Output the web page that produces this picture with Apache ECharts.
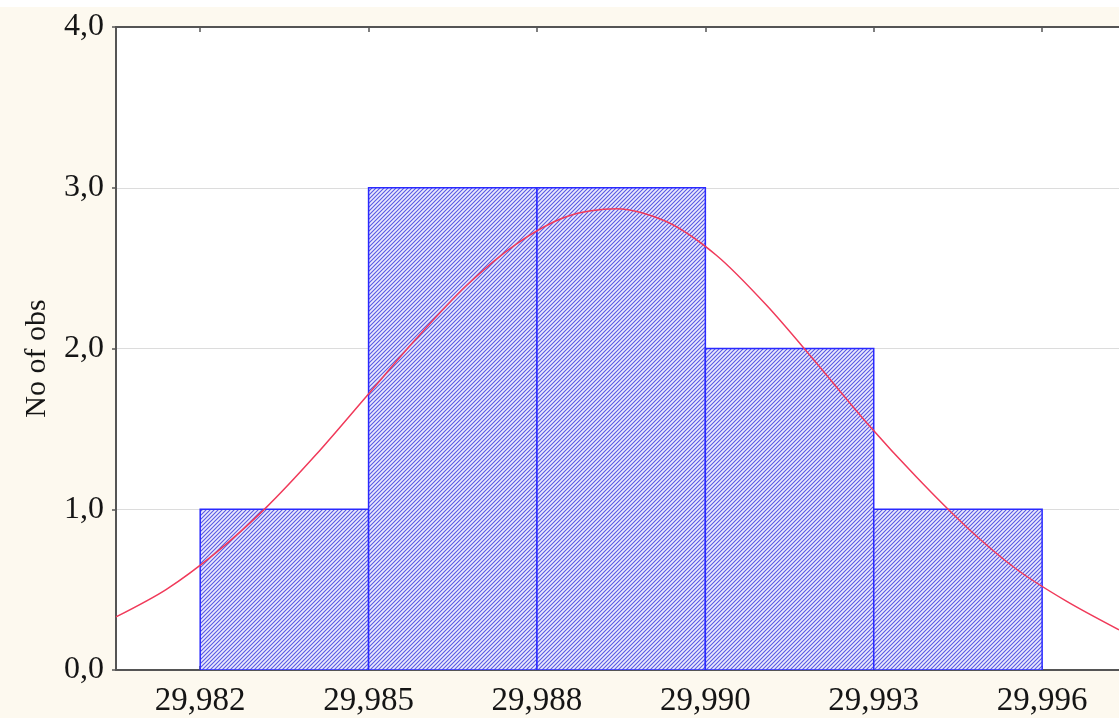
<!DOCTYPE html>
<html>
<head>
<meta charset="utf-8">
<script src="https://cdn.jsdelivr.net/npm/echarts@6/dist/echarts.min.js"></script>
<style>
html,body{margin:0;padding:0;background:#fdf9ef;}
#chart{width:1119px;height:718px;}
</style>
</head>
<body>
<div id="chart"></div>
<script>
// Histogram bins (edges) and observed counts
const binEdges = [29.98215, 29.98491, 29.98767, 29.99043, 29.99319, 29.99595];
const counts = [1, 3, 3, 2, 1];
const yTicks = [0, 1, 2, 3, 4];
const yAxisName = 'No of obs';
// Fitted normal curve
const curveX = [29.98077, 29.98159, 29.98241, 29.98323, 29.98405, 29.98487, 29.98569, 29.98651, 29.98733, 29.98815, 29.98897, 29.98979, 29.99061, 29.99143, 29.99225, 29.99307, 29.99389, 29.99471, 29.99552, 29.99634, 29.99721];
const curveY = [0.33, 0.50, 0.73, 1.01, 1.34, 1.70, 2.06, 2.39, 2.65, 2.82, 2.87, 2.79, 2.58, 2.27, 1.91, 1.54, 1.20, 0.89, 0.63, 0.43, 0.25];

const xMin = 29.98077, xMax = 29.99721;

// hatch pattern
const pc = document.createElement('canvas');
pc.width = 4; pc.height = 4;
const g = pc.getContext('2d');
g.fillStyle = '#eaeafd';
g.fillRect(0, 0, 4, 4);
g.strokeStyle = '#5858e4';
g.lineWidth = 1.1;
g.beginPath();
g.moveTo(-1, 5); g.lineTo(5, -1);
g.moveTo(-1, 1); g.lineTo(1, -1);
g.moveTo(3, 5); g.lineTo(5, 3);
g.stroke();
const hatch = {image: pc, repeat: 'repeat'};

const histData = counts.map((c, i) => [binEdges[i], binEdges[i + 1], c]);
const curveData = curveX.map((x, i) => [x, curveY[i]]);

const font = 'Liberation Serif';
const fmtX = v => v.toFixed(3).replace('.', ',');
const fmtY = v => v.toFixed(1).replace('.', ',');

const chart = echarts.init(document.getElementById('chart'), null, {renderer: 'canvas'});
chart.setOption({
  backgroundColor: '#fdf9ef',
  animation: false,
  graphic: [{type: 'rect', shape: {x: 0, y: 0, width: 1119, height: 7}, style: {fill: '#ffffff'}, z: -10}],
  grid: {left: 116, right: 0, top: 27, bottom: 48, show: true, backgroundColor: '#ffffff', borderWidth: 0},
  xAxis: [{
    type: 'value', min: xMin, max: xMax, position: 'bottom',
    axisLine: {show: true, onZero: false, lineStyle: {color: '#555', width: 2}},
    axisTick: {show: true, inside: true, length: 4, customValues: binEdges, lineStyle: {color: '#555', width: 1.5}},
    axisLabel: {customValues: binEdges, formatter: fmtX, margin: 15, fontFamily: font, fontSize: 33, color: '#151515'},
    splitLine: {show: false}
  }, {
    type: 'value', min: xMin, max: xMax, position: 'top',
    axisLine: {show: true, onZero: false, lineStyle: {color: '#555', width: 2}},
    axisTick: {show: true, inside: true, length: 5, customValues: binEdges, lineStyle: {color: '#555', width: 1.5}},
    axisLabel: {show: false},
    splitLine: {show: false}
  }],
  yAxis: {
    type: 'value', min: 0, max: 4, interval: 1,
    name: yAxisName, nameLocation: 'middle', nameRotate: 90, nameGap: 64,
    nameTextStyle: {fontFamily: font, fontSize: 30, color: '#151515', padding: [0, 20, 0, 0]},
    axisLine: {show: true, lineStyle: {color: '#555', width: 2}},
    axisTick: {show: true, inside: false, length: 4, lineStyle: {color: '#555', width: 1.5}},
    axisLabel: {formatter: fmtY, margin: 12, fontFamily: font, fontSize: 32, color: '#151515',
                customValues: yTicks},
    splitLine: {show: true, lineStyle: {color: '#dcdcdc', width: 1}}
  },
  series: [{
    type: 'custom',
    xAxisIndex: 0,
    data: histData,
    clip: true,
    renderItem: function (params, api) {
      const p0 = api.coord([api.value(0), api.value(2)]);
      const p1 = api.coord([api.value(1), 0]);
      return {
        type: 'rect',
        shape: {x: p0[0], y: p0[1], width: p1[0] - p0[0], height: p1[1] - p0[1]},
        style: {fill: hatch, stroke: '#2a2aff', lineWidth: 1.5}
      };
    },
    z: 2
  }, {
    type: 'line',
    xAxisIndex: 0,
    data: curveData,
    smooth: 0.3,
    symbol: 'none',
    lineStyle: {color: '#f03a5a', width: 1.5},
    z: 3
  }]
});
</script>
</body>
</html>
